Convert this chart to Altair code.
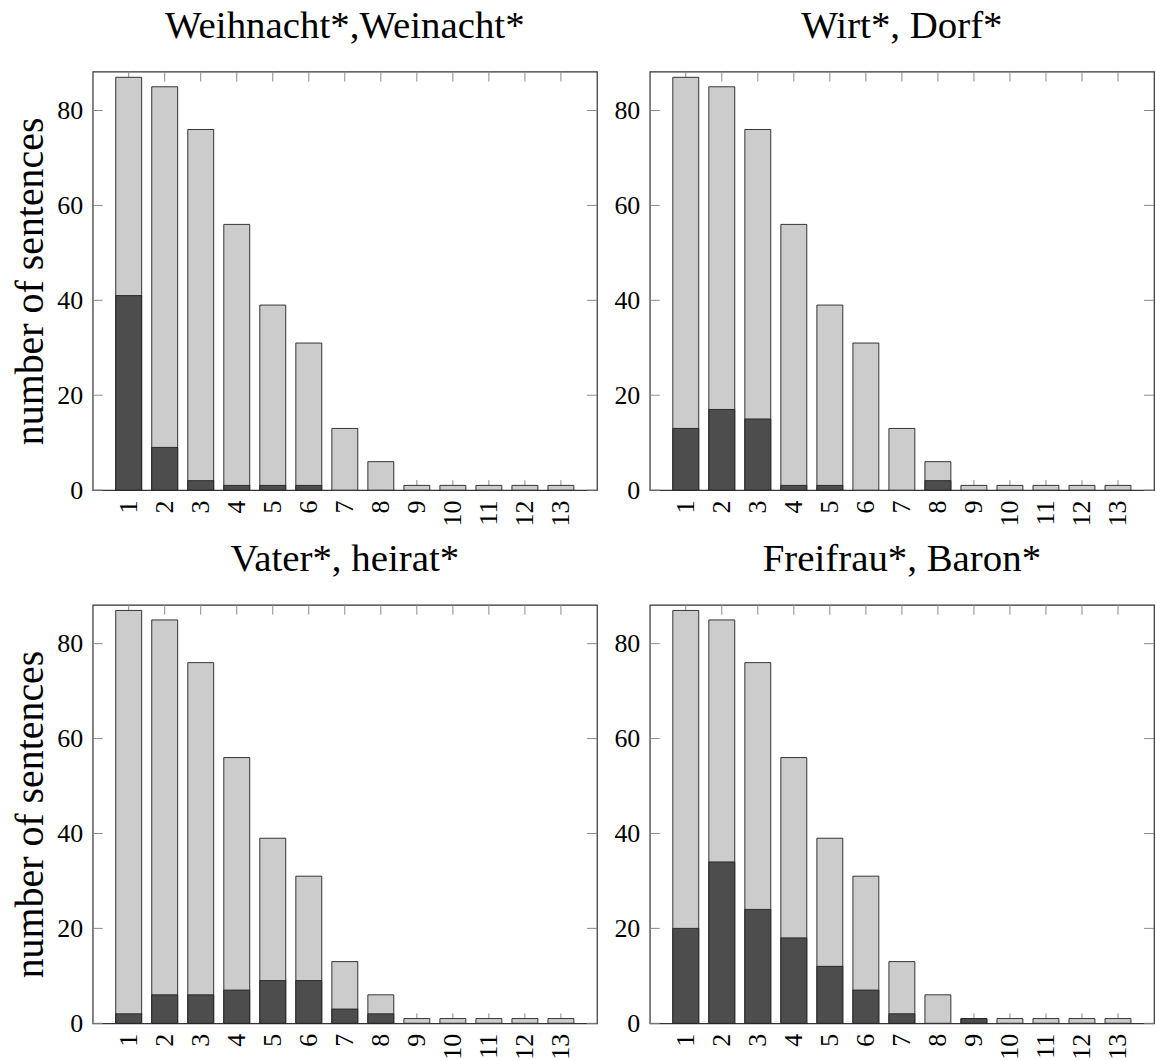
import altair as alt
import pandas as pd

# Sentence counts per position, shared by all four keyword panels
positions = list(range(1, 14))
totals = [87, 85, 76, 56, 39, 31, 13, 6, 1, 1, 1, 1, 1]

# Sentences containing the keyword pair, per panel
dark_weihnacht = [41, 9, 2, 1, 1, 1, 0, 0, 0, 0, 0, 0, 0]
dark_wirt = [13, 17, 15, 1, 1, 0, 0, 2, 0, 0, 0, 0, 0]
dark_vater = [2, 6, 6, 7, 9, 9, 3, 2, 0, 0, 0, 0, 0]
dark_freifrau = [20, 34, 24, 18, 12, 7, 2, 0, 1, 0, 0, 0, 0]

titles = ["Weihnacht*,Weinacht*", "Wirt*, Dorf*", "Vater*, heirat*", "Freifrau*, Baron*"]
hits = [dark_weihnacht, dark_wirt, dark_vater, dark_freifrau]
y_ticks = [0, 20, 40, 60, 80]

W, H = 506, 420
TICK = 10
FONT = "Liberation Serif"
LIGHT = "#cccccc"
DARK = "#4d4d4d"
EDGE = "#222222"
TICK_COLOR = "#8a8a8a"

x_scale = alt.Scale(domain=[0, 14], nice=False, zero=False)
y_scale = alt.Scale(domain=[0, 88.2], nice=False, zero=False)


def panel(title, hit, show_ytitle):
    df = pd.DataFrame({"pos": positions, "total": totals, "hit": hit})
    x_axis = alt.Axis(values=positions, format="d", labelAngle=270, labelPadding=10,
                      labelFontSize=26, title=None)
    y_axis = alt.Axis(values=y_ticks, format="d", labelPadding=10, labelFontSize=26,
                      title="number of sentences" if show_ytitle else None,
                      titleFontSize=40, titlePadding=6)

    xticks = pd.DataFrame({"pos": positions})
    yticks = pd.DataFrame({"v": y_ticks})

    top_ticks = alt.Chart(xticks).mark_rule(color=TICK_COLOR, strokeWidth=1).encode(
        x=alt.X("pos:Q", scale=x_scale, axis=x_axis),
        y=alt.value(0), y2=alt.value(TICK))
    bottom_ticks = alt.Chart(xticks).mark_rule(color=TICK_COLOR, strokeWidth=1).encode(
        x=alt.X("pos:Q", scale=x_scale, axis=x_axis),
        y=alt.value(H - TICK), y2=alt.value(H))
    left_ticks = alt.Chart(yticks).mark_rule(color=TICK_COLOR, strokeWidth=1).encode(
        y=alt.Y("v:Q", scale=y_scale, axis=y_axis),
        x=alt.value(0), x2=alt.value(TICK))
    right_ticks = alt.Chart(yticks).mark_rule(color=TICK_COLOR, strokeWidth=1).encode(
        y=alt.Y("v:Q", scale=y_scale, axis=y_axis),
        x=alt.value(W - TICK), x2=alt.value(W))

    base = alt.Chart(df).transform_calculate(lo="datum.pos - 0.36", hi="datum.pos + 0.36")
    total_bars = base.mark_bar(fill=LIGHT, stroke=EDGE, strokeWidth=0.9).encode(
        x=alt.X("lo:Q", scale=x_scale, axis=x_axis), x2="hi:Q",
        y=alt.Y("total:Q", scale=y_scale, axis=y_axis), y2=alt.datum(0))
    hit_bars = base.transform_filter("datum.hit > 0").mark_bar(
        fill=DARK, stroke=EDGE, strokeWidth=0.9).encode(
        x=alt.X("lo:Q", scale=x_scale, axis=x_axis), x2="hi:Q",
        y=alt.Y("hit:Q", scale=y_scale, axis=y_axis), y2=alt.datum(0))

    return alt.layer(top_ticks, bottom_ticks, left_ticks, right_ticks, total_bars, hit_bars).properties(
        width=W, height=H,
        title=alt.TitleParams(title, fontSize=39, font=FONT, fontWeight="normal",
                              color="black", offset=25))


panels = [panel(t, h, i % 2 == 0) for i, (t, h) in enumerate(zip(titles, hits))]

chart = alt.concat(*panels, columns=2, spacing={"row": 115, "column": 53}, bounds="flush").properties(
    padding={"left": 10, "top": 4, "right": 0, "bottom": 0}
).configure_view(
    stroke="#333333", strokeWidth=1.2
).configure_axis(
    labelFont=FONT, titleFont=FONT, labelColor="black", titleColor="black",
    grid=False, domain=False, ticks=False, titleFontWeight="normal"
).configure_title(font=FONT)

chart.save("out.html", embed_options={"renderer": "svg", "actions": False})
